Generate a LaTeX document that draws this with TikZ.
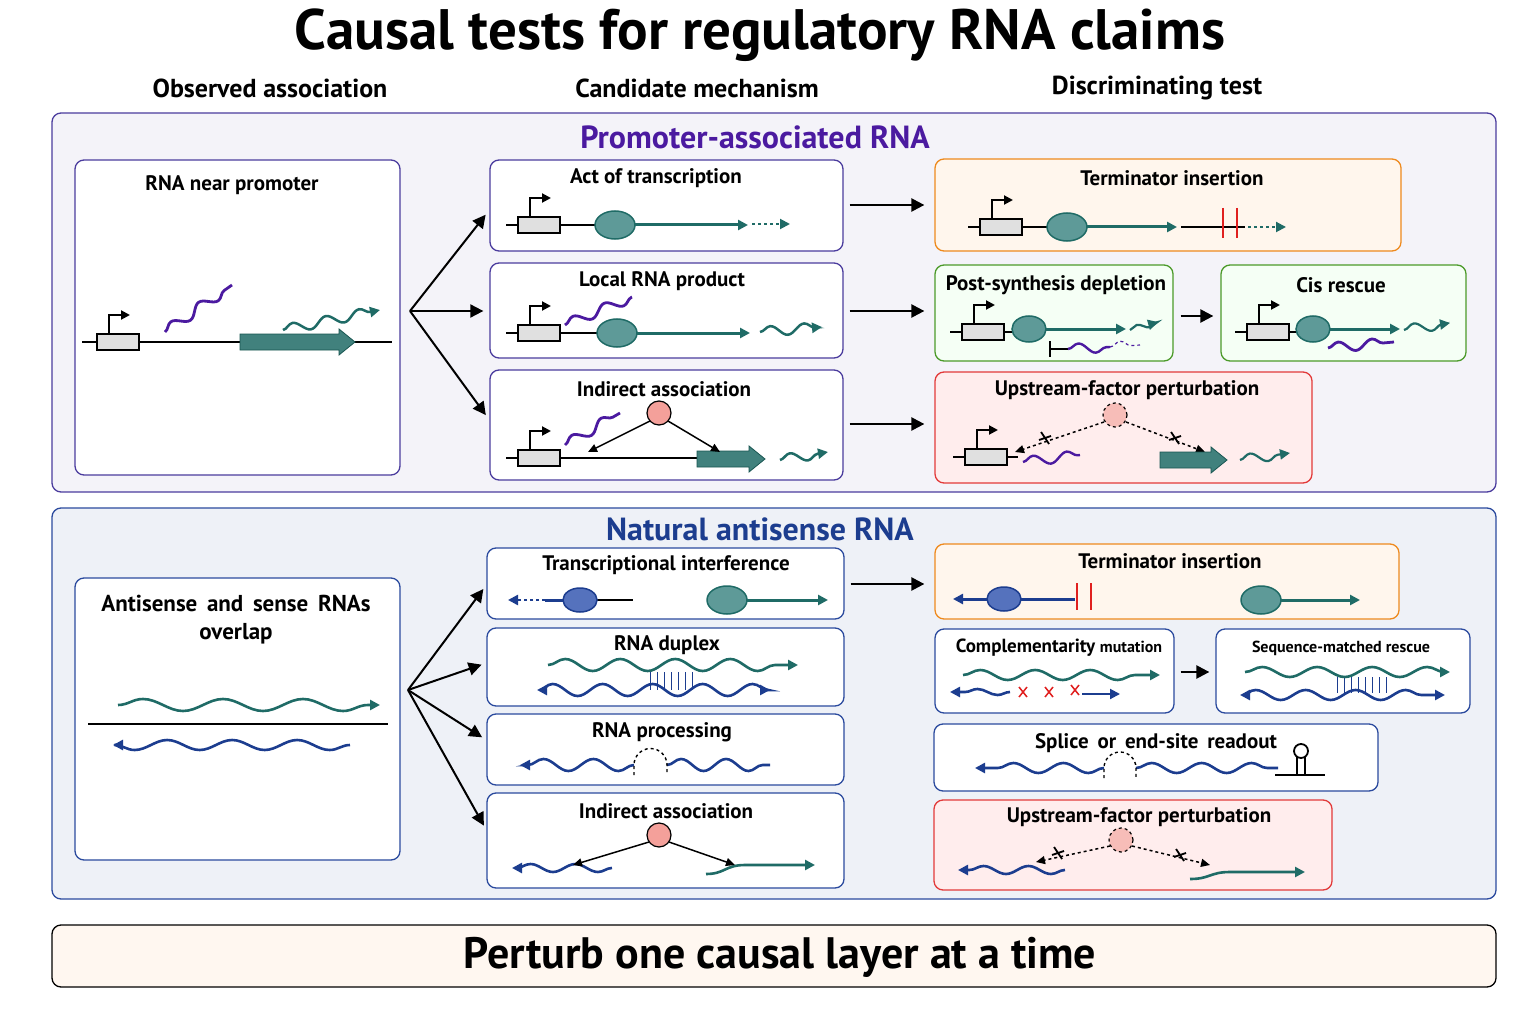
\documentclass[tikz,border=0pt]{standalone}
\usepackage{fontspec}
\setmainfont{PT Sans}
\usetikzlibrary{arrows.meta,fit,decorations.pathmorphing,shapes.misc}
\definecolor{teal1}{HTML}{1F6B66}
\definecolor{polyT}{HTML}{5E9A98}
\definecolor{blue1}{HTML}{1C3D8F}
\definecolor{polyB}{HTML}{5572BD}
\definecolor{purp}{HTML}{4B1AA0}
\definecolor{redt}{HTML}{E0201F}
\definecolor{pinkf}{HTML}{F4A09A}
\definecolor{p1b}{HTML}{4B3C9E}
\definecolor{p2b}{HTML}{2B4A9E}
\definecolor{orgb}{HTML}{EE8A1E}
\definecolor{grnb}{HTML}{4C9A2A}
\definecolor{redb}{HTML}{E23A3A}
\newcommand\bxx[6]{\node[fit={(#2,#3) (#4,#5)},inner sep=0pt,draw,rounded corners=9pt,line width=1.3pt,#6] (#1) {};}
\newcommand\prom[3]{%
  \draw[line width=1.5pt] (#1-12,#2)--(#1,#2);
  \draw[line width=1.5pt] (#1+42,#2)--(#3,#2);
  \draw[line width=1.3pt,fill=black!12] (#1,#2-8) rectangle (#1+42,#2+8);
  \draw[line width=2pt,-{Triangle[length=9pt,width=9pt]}] (#1+12,#2-8)--(#1+12,#2-27)--(#1+33,#2-27);}
\newcommand\polT[2]{\draw[line width=1.5pt,draw=teal1,fill=polyT] (#1,#2) ellipse (20pt and 14pt);}
\newcommand\polB[2]{\draw[line width=1.5pt,draw=blue1,fill=polyB] (#1,#2) ellipse (17pt and 12pt);}
\newcommand\fac[2]{\draw[line width=1.2pt,fill=pinkf] (#1,#2) circle (12pt);}
\newcommand\facd[2]{\draw[line width=1.2pt,dashed,fill=pinkf!70] (#1,#2) circle (12pt);}
\newcommand\genearr[3]{\draw[draw=teal1!80!black,fill=teal1!85,line width=0.8pt] (#1,#3-8)--(#2-16,#3-8)--(#2-16,#3-13)--(#2,#3)--(#2-16,#3+13)--(#2-16,#3+8)--(#1,#3+8)--cycle;}
\newcommand\xm[2]{\draw[line width=1.8pt] (#1-4,#2-6)--(#1+4,#2+6) (#1-6,#2+2)--(#1+6,#2-2);}
\newcommand\rx[2]{\draw[redt,line width=1.5pt] (#1-4,#2-5)--(#1+4,#2+5) (#1-4,#2+5)--(#1+4,#2-5);}
\tikzset{
  lab/.style={font=\bfseries\fontsize{21}{24}\selectfont},
  arr/.style={line width=2.4pt,-{Triangle[length=13pt,width=13pt]}},
  thinarr/.style={line width=1.5pt,-{Triangle[length=9pt,width=8pt]}},
  wv/.style={decorate,decoration={snake,amplitude=5pt,segment length=34pt}},
  tl/.style={teal1,line width=3pt},
  bl/.style={blue1,line width=3pt},
  pl/.style={purp,line width=2.8pt},
  tip/.style={-{Triangle[length=10pt,width=10pt]}},
  dtip/.style={{Triangle[length=10pt,width=10pt]}-{Triangle[length=10pt,width=10pt]}},
}
\begin{document}
\begin{tikzpicture}[x=1pt,y=-1pt]
\useasboundingbox[fill=white] (0,0) rectangle (1536,1024);
\node[font=\bfseries\fontsize{57}{62}\selectfont] (title) at (760,35) {Causal tests for regulatory RNA claims};
\node[font=\bfseries\fontsize{26}{30}\selectfont] (h1) at (270,88) {Observed association};
\node[font=\bfseries\fontsize{26}{30}\selectfont] (h2) at (697,88) {Candidate mechanism};
\node[font=\bfseries\fontsize{26}{30}\selectfont] (h3) at (1157,88) {Discriminating test};
% panels
\bxx{P1}{52}{113}{1496}{492}{draw=p1b,fill=p1b!6}
\node[font=\bfseries\fontsize{32}{36}\selectfont,text=purp] at (755,137) {Promoter-associated RNA};
\bxx{P2}{52}{508}{1496}{899}{draw=p2b,fill=p2b!8}
\node[font=\bfseries\fontsize{32}{36}\selectfont,text=blue1] at (760,529) {Natural antisense RNA};
\bxx{B}{52}{925}{1496}{987}{draw=black,fill=orange!6}
\node[font=\bfseries\fontsize{44}{50}\selectfont] at (780,957) {Perturb one causal layer at a time};
%%%%%% panel 1
\bxx{o1}{75}{160}{400}{475}{draw=p1b,fill=white}
\node[lab] at (232,185) {RNA near promoter};
\draw[line width=1.6pt] (82,342)--(392,342);
\prom{97}{342}{150}
\genearr{240}{355}{342}
\draw[pl,wv] (165,332)--(232,285);
\draw[tl,wv,tip,line width=2.5pt] (283,330)--(380,310);

\bxx{m1}{490}{160}{843}{251}{draw=p1b,fill=white}
\bxx{m2}{490}{263}{843}{358}{draw=p1b,fill=white}
\bxx{m3}{490}{370}{843}{480}{draw=p1b,fill=white}
\node[lab] at (656,178) {Act of transcription};
\prom{518}{225}{600}\polT{615}{225}
\draw[tl,tip] (635,225)--(748,225);
\draw[tl,tip,dashed,line width=2pt] (752,224)--(790,224);
\node[lab] at (662,281) {Local RNA product};
\prom{518}{333}{600}
\draw[pl,wv] (565,325)--(632,297);
\polT{617}{333}
\draw[tl,tip] (637,333)--(750,333);
\draw[tl,wv,tip,line width=2.5pt] (760,332)--(822,327);
\node[lab] at (664,389) {Indirect association};
\prom{518}{458}{700}
\genearr{697}{765}{459}
\draw[pl,wv] (565,445)--(620,413);
\fac{659}{413}
\draw[thinarr] (650,421)--(588,452);
\draw[thinarr] (668,421)--(720,452);
\draw[tl,wv,tip,line width=2.5pt] (780,460)--(828,452);

\bxx{t1}{935}{159}{1401}{251}{draw=orgb,fill=orange!7}
\node[lab] at (1172,178) {Terminator insertion};
\prom{980}{227}{1050}\polT{1067}{227}
\draw[tl,tip] (1087,227)--(1177,227);
\draw[line width=1.6pt] (1181,227)--(1245,227);
\draw[redt,line width=2.5pt] (1223,208)--(1223,238) (1237,208)--(1237,238);
\draw[tl,tip,dashed,line width=2pt] (1248,227)--(1286,227);

\bxx{t2}{935}{265}{1173}{361}{draw=grnb,fill=green!4}
\node[lab] at (1056,285) {Post-synthesis depletion};
\prom{962}{332}{1015}\draw[line width=1.5pt,draw=teal1,fill=polyT] (1029,329) ellipse (17pt and 13pt);
\draw[tl,tip] (1046,329)--(1126,329);
\draw[tl,wv,tip,line width=2.2pt,decoration={snake,amplitude=3pt,segment length=25pt}] (1130,330)--(1158,322);
\draw[line width=2pt] (1050,341)--(1050,357) (1050,349)--(1068,349);
\draw[pl,wv,line width=2.4pt] (1068,349)--(1110,347);
\draw[pl,wv,line width=1.2pt,dashed] (1110,347)--(1140,345);

\bxx{t3}{1221}{265}{1466}{361}{draw=grnb,fill=green!4}
\node[lab] at (1341,285) {Cis rescue};
\prom{1247}{332}{1300}\draw[line width=1.5pt,draw=teal1,fill=polyT] (1313,329) ellipse (17pt and 13pt);
\draw[tl,tip] (1330,329)--(1400,329);
\draw[tl,wv,tip,line width=2.2pt] (1404,330)--(1450,323);
\draw[pl,wv] (1328,348)--(1394,342);

\bxx{t4}{935}{372}{1312}{483}{draw=redb,fill=red!7}
\node[lab] at (1127,390) {Upstream-factor perturbation};
\prom{965}{457}{1018}
\draw[pl,wv,line width=2.4pt] (1023,462)--(1080,455);
\facd{1115}{415}
\draw[thinarr,dashed] (1104,422)--(1015,452);
\draw[thinarr,dashed] (1126,422)--(1205,452);
\xm{1045}{438}\xm{1175}{438}
\genearr{1160}{1227}{460}
\draw[tl,wv,tip,line width=2.2pt] (1240,460)--(1290,453);

\coordinate (f1) at (410,311);
\draw[arr,line width=2pt,shorten >=6pt] (f1)--(m1.west|-0,210);
\draw[arr,line width=2pt,shorten >=6pt] (f1)--(m2.west|-f1);
\draw[arr,line width=2pt,shorten >=6pt] (f1)--(m3.west|-0,420);
\draw[arr,shorten <=6pt,shorten >=10pt] (m1.east|-0,205)--(t1.west|-0,205);
\draw[arr,shorten <=6pt,shorten >=10pt] (m2.east|-0,311)--(t2.west|-0,311);
\draw[arr,shorten <=6pt,shorten >=10pt] (m3.east|-0,424)--(t4.west|-0,424);
\draw[arr,shorten <=7pt,shorten >=7pt] (t2.east|-0,316)--(t3.west|-0,316);

%%%%%% panel 2
\bxx{o2}{75}{578}{400}{860}{draw=p2b,fill=white}
\node[font=\bfseries\fontsize{23}{28}\selectfont,align=center] at (236,620) {Antisense\, and\, sense\, RNAs\\overlap};
\draw[tl,wv,tip,line width=2.6pt,decoration={snake,amplitude=6pt,segment length=80pt}] (118,705)--(380,705);
\draw[line width=1.6pt] (88,724)--(388,724);
\draw[bl,wv,tip,line width=2.6pt,decoration={snake,amplitude=5pt,segment length=65pt}] (350,745)--(113,745);

\bxx{n1}{487}{548}{844}{619}{draw=p2b,fill=white}
\bxx{n2}{487}{628}{844}{706}{draw=p2b,fill=white}
\bxx{n3}{487}{714}{844}{785}{draw=p2b,fill=white}
\bxx{n4}{487}{793}{844}{888}{draw=p2b,fill=white}
\node[lab] at (666,565) {Transcriptional interference};
\draw[bl,tip,dashed,line width=2.4pt] (545,600)--(508,600);
\draw[bl] (545,600)--(565,600);
\draw[line width=1.6pt] (597,600)--(633,600);
\polB{580}{600}
\draw[tl,tip] (745,600)--(828,600);
\polT{727}{600}
\node[lab] at (667,645) {RNA duplex};
\foreach \i in {650,657,...,698} \draw[blue1,line width=1pt] (\i,672)--(\i,690);
\draw[tl,wv,tip,line width=2.6pt,decoration={snake,amplitude=6pt,segment length=55pt}] (548,665)--(798,665);
\draw[bl,wv,dtip,line width=2.6pt,decoration={snake,amplitude=6pt,segment length=50pt}] (537,690)--(770,690);
\node[lab] at (662,732) {RNA processing};
\draw[bl,wv,tip,line width=2.6pt,decoration={snake,amplitude=6pt,segment length=50pt}] (634,765)--(520,765);
\draw[bl,wv,line width=2.6pt,decoration={snake,amplitude=6pt,segment length=45pt}] (667,765)--(770,765);
\draw[dashed,line width=1.4pt] (634,775)--(634,765) arc (180:360:16.5) -- (667,775);
\node[lab] at (666,811) {Indirect association};
\fac{659}{835}
\draw[bl,wv,tip,line width=2.6pt,decoration={snake,amplitude=4pt,segment length=45pt}] (612,868)--(512,868);
\draw[tl,tip,line width=2.6pt] (706,874) .. controls (725,874) and (725,865) .. (745,865) -- (815,865);
\draw[thinarr] (649,842)--(573,865);
\draw[thinarr] (669,842)--(735,865);

\bxx{u1}{935}{544}{1399}{619}{draw=orgb,fill=orange!7}
\node[lab] at (1170,561) {Terminator insertion};
\draw[bl,tip] (1075,599)--(953,599);
\polB{1004}{599}
\draw[redt,line width=2.5pt] (1077,583)--(1077,610) (1091,583)--(1091,610);
\draw[tl,tip] (1278,600)--(1360,600);
\polT{1261}{600}

\bxx{u2}{935}{629}{1174}{713}{draw=p2b,fill=white}
\node[font=\bfseries\fontsize{19}{22}\selectfont] at (1059,648) {Complementarity \fontsize{16}{18}\selectfont mutation};
\draw[tl,wv,tip,line width=2.6pt,decoration={snake,amplitude=5pt,segment length=55pt}] (963,675)--(1160,675);
\draw[bl,wv,tip,line width=2.6pt,decoration={snake,amplitude=3pt,segment length=40pt}] (1010,692)--(950,692);
\draw[bl,tip,line width=2pt] (1082,694)--(1120,694);
\rx{1023}{692}\rx{1049}{692}\rx{1075}{690}

\bxx{u3}{1216}{629}{1470}{713}{draw=p2b,fill=white}
\node[font=\bfseries\fontsize{16}{19}\selectfont] at (1341,648) {Sequence-matched rescue};
\foreach \i in {1337,1344,...,1389} \draw[blue1,line width=1pt] (\i,677)--(\i,693);
\draw[tl,wv,tip,line width=2.6pt,decoration={snake,amplitude=5pt,segment length=55pt}] (1245,672)--(1450,672);
\draw[bl,wv,dtip,line width=2.6pt,decoration={snake,amplitude=5pt,segment length=50pt}] (1240,695)--(1445,695);

\bxx{u4}{934}{724}{1378}{791}{draw=p2b,fill=white}
\node[lab] at (1156,743) {Splice\, or\, end-site\, readout};
\draw[bl,wv,tip,line width=2.6pt,decoration={snake,amplitude=5pt,segment length=50pt}] (1104,768)--(975,768);
\draw[bl,wv,line width=2.6pt,decoration={snake,amplitude=5pt,segment length=50pt}] (1136,768)--(1278,768);
\draw[dashed,line width=1.4pt] (1104,778)--(1104,768) arc (180:360:16)--(1136,778);
\draw[line width=1.8pt] (1275,775)--(1325,775) (1297,775)--(1297,757) (1305,775)--(1305,757);
\draw[line width=1.8pt,fill=white] (1301,751) circle (7pt);

\bxx{u5}{934}{800}{1332}{890}{draw=redb,fill=red!7}
\node[lab] at (1139,817) {Upstream-factor perturbation};
\facd{1121}{840}
\draw[bl,wv,tip,line width=2.6pt,decoration={snake,amplitude=4pt,segment length=45pt}] (1065,870)--(958,870);
\draw[tl,tip,line width=2.6pt] (1190,879) .. controls (1210,879) and (1210,872) .. (1230,872) -- (1305,872);
\draw[thinarr,dashed] (1110,846)--(1036,862);
\draw[thinarr,dashed] (1132,846)--(1210,865);
\xm{1058}{853}\xm{1180}{855}

\coordinate (f2) at (408,690);
\foreach \t/\yy in {n1/585,n2/663,n3/740,n4/830}
  \draw[arr,line width=2pt,shorten >=5pt] (f2)--(\t.west|-0,\yy);
\draw[arr,shorten <=6pt,shorten >=10pt] (n1.east|-0,584)--(u1.west|-0,584);
\draw[arr,shorten <=6pt,shorten >=6pt] (u2.east|-0,672)--(u3.west|-0,672);
\end{tikzpicture}
\end{document}
